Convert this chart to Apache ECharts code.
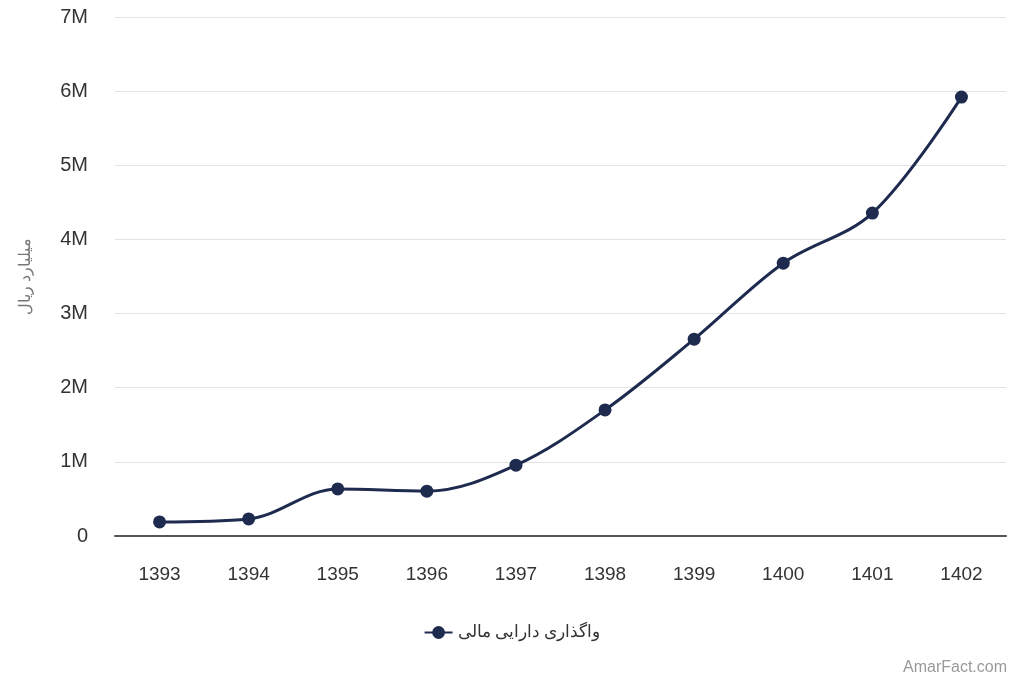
<!DOCTYPE html>
<html>
<head>
<meta charset="utf-8">
<script src="https://cdn.jsdelivr.net/npm/echarts@6/dist/echarts.min.js"></script>
<style>html,body{margin:0;padding:0;background:#fff;}#c{width:1024px;height:683px;}</style>
</head>
<body>
<div id="c"></div>
<script>
const categories = ['1393','1394','1395','1396','1397','1398','1399','1400','1401','1402'];
const seriesName = 'واگذاری دارایی مالی';
const values = [190000, 230000, 635000, 605000, 955000, 1700000, 2655000, 3680000, 4355000, 5920000];
const yAxisName = 'میلیارد ریال';
const yTicks = [0, 1000000, 2000000, 3000000, 4000000, 5000000, 6000000, 7000000];

const chart = echarts.init(document.getElementById('c'));
chart.setOption({
  animation: false,
  backgroundColor: '#fff',
  grid: { left: 115, right: 18, top: 17, bottom: 147 },
  xAxis: {
    type: 'category',
    data: categories,
    boundaryGap: true,
    axisLine: { lineStyle: { color: '#555', width: 2 } },
    axisTick: { show: false },
    axisLabel: { color: '#333', fontSize: 19, margin: 29, fontFamily: '"Liberation Sans", Arial, sans-serif' }
  },
  yAxis: {
    type: 'value',
    min: 0,
    max: yTicks[yTicks.length - 1],
    interval: 1000000,
    name: yAxisName,
    nameLocation: 'middle',
    nameGap: 82,
    nameRotate: 90,
    nameTextStyle: { color: '#777', fontSize: 16, fontFamily: '"Noto Sans", sans-serif' },
    axisLine: { show: false },
    axisTick: { show: false },
    splitLine: { lineStyle: { color: '#e3e3e3', width: 1 } },
    axisLabel: {
      color: '#333', fontSize: 20, margin: 27, fontFamily: '"Liberation Sans", Arial, sans-serif',
      formatter: v => v === 0 ? '0' : (v / 1000000) + 'M'
    }
  },
  legend: {
    bottom: 37,
    left: 'center',
    itemWidth: 28,
    itemHeight: 16,
    itemGap: 10,
    textStyle: { color: '#333', fontSize: 17, fontFamily: '"Noto Sans", sans-serif' },
    data: [seriesName]
  },
  graphic: [{
    type: 'text',
    right: 17,
    bottom: 7,
    style: { text: 'AmarFact.com', fill: '#999', fontSize: 16, fontFamily: '"Liberation Sans", Arial, sans-serif' }
  }],
  series: [{
    name: seriesName,
    type: 'line',
    data: values,
    smooth: 0.35,
    symbol: 'circle',
    symbolSize: 13,
    lineStyle: { color: '#1e2b4f', width: 3 },
    itemStyle: { color: '#1e2b4f' }
  }]
});
</script>
</body>
</html>
